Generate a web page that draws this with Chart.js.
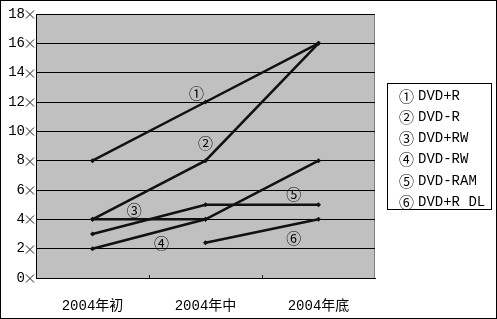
<!DOCTYPE html>
<html>
<head>
<meta charset="utf-8">
<script src="https://cdn.jsdelivr.net/npm/chart.js@4/dist/chart.umd.min.js"></script>
<style>
  html, body { margin: 0; padding: 0; background: #fff; }
  #wrap { width: 497px; height: 319px; }
</style>
</head>
<body>
<div id="wrap"><canvas id="dvdChart" width="497" height="319"></canvas></div>
<script>
// data
const categories = ['2004年初', '2004年中', '2004年底'];
const dvdPlusR   = [8, 12, 16];
const dvdMinusR  = [4, 8, 16];
const dvdPlusRW  = [3, 5, 5];
const dvdMinusRW = [2, 4, 8];
const dvdRAM     = [4, 4, null];
const dvdPlusRDL = [null, 2.4, 4];
const seriesNames = ['DVD+R', 'DVD-R', 'DVD+RW', 'DVD-RW', 'DVD-RAM', 'DVD+R DL'];
const seriesMarks = ['①', '②', '③', '④', '⑤', '⑥'];
const yMax = 18;
const yStep = 2;

// where each circled number sits on the plot (category index, value)
const markSpots = [[0.92, 12.6], [1.0, 9.2], [0.37, 4.6], [0.61, 2.4], [1.78, 5.7], [1.78, 2.7]];

const monoFont = '"Liberation Mono", "Noto Sans CJK SC", monospace';
const cjkFont = '"Noto Sans CJK SC", "Liberation Mono", sans-serif';

const allSeries = [dvdPlusR, dvdMinusR, dvdPlusRW, dvdMinusRW, dvdRAM, dvdPlusRDL];

const frame = {
    id: 'frame',
    beforeDraw(chart) {
        const ctx = chart.ctx;
        const a = chart.chartArea;
        ctx.save();
        ctx.fillStyle = '#fff';
        ctx.fillRect(0, 0, chart.width, chart.height);
        ctx.fillStyle = '#c0c0c0';
        ctx.fillRect(a.left, a.top, a.right - a.left, a.bottom - a.top);
        ctx.strokeStyle = '#808080';
        ctx.lineWidth = 1;
        ctx.strokeRect(a.left + 0.5, a.top + 0.5, a.right - a.left - 1, a.bottom - a.top);
        ctx.restore();
    },
    afterDraw(chart) {
        const ctx = chart.ctx;
        const a = chart.chartArea;
        const y = chart.scales.y;
        const x = chart.scales.x;
        ctx.save();
        // outer border
        ctx.strokeStyle = '#000';
        ctx.lineWidth = 1;
        ctx.strokeRect(0.5, 0.5, chart.width - 1, chart.height - 1);

        // cross tick marks on the value axis
        ctx.strokeStyle = '#222';
        y.ticks.forEach(t => {
            const py = Math.round(y.getPixelForValue(t.value)) + 0.5;
            ctx.beginPath();
            ctx.moveTo(a.left - 10, py - 4);
            ctx.lineTo(a.left - 2, py + 4);
            ctx.moveTo(a.left - 10, py + 4);
            ctx.lineTo(a.left - 2, py - 4);
            ctx.stroke();
        });

        // small ticks between categories
        for (let i = 0.5; i < categories.length - 1; i++) {
            const px = Math.round(x.getPixelForValue(i)) + 0.5;
            ctx.beginPath();
            ctx.moveTo(px, a.bottom - 3);
            ctx.lineTo(px, a.bottom);
            ctx.stroke();
        }

        // circled numbers on the lines
        ctx.fillStyle = '#000';
        ctx.font = '15px ' + cjkFont;
        ctx.textAlign = 'center';
        ctx.textBaseline = 'middle';
        markSpots.forEach((s, i) => {
            ctx.fillText(seriesMarks[i], x.getPixelForValue(s[0]), y.getPixelForValue(s[1]));
        });

        // legend box
        const bx = a.right + 12, by = 83, bw = 104, bh = 126;
        ctx.strokeStyle = '#000';
        ctx.strokeRect(bx + 0.5, by + 0.5, bw, bh);
        ctx.textAlign = 'left';
        seriesNames.forEach((name, i) => {
            const ty = by + 13 + i * 21.2;
            ctx.font = '15px ' + cjkFont;
            ctx.fillText(seriesMarks[i], bx + 12, ty);
            ctx.font = '14px ' + monoFont;
            ctx.fillText(name, bx + 31, ty);
        });
        ctx.restore();
    }
};

const ctx = document.getElementById('dvdChart').getContext('2d');
new Chart(ctx, {
    type: 'line',
    data: {
        labels: categories,
        datasets: allSeries.map((d, i) => ({
            label: seriesNames[i],
            data: d,
            borderColor: '#111',
            backgroundColor: '#111',
            borderWidth: 2.5,
            pointStyle: 'rectRot',
            pointRadius: 2.5,
            pointBorderWidth: 0,
            tension: 0,
            spanGaps: false
        }))
    },
    options: {
        responsive: false,
        animation: false,
        devicePixelRatio: 1,
        layout: { padding: { top: 14, right: 122, left: 0, bottom: 0 } },
        plugins: {
            legend: { display: false },
            tooltip: { enabled: false }
        },
        scales: {
            x: {
                offset: true,
                grid: { display: false },
                border: { display: true, color: '#000', width: 1 },
                ticks: {
                    color: '#000',
                    font: { family: monoFont, size: 14 },
                    padding: 12,
                    maxRotation: 0
                },
                afterFit(scale) { scale.height = 41; }
            },
            y: {
                min: 0,
                max: yMax,
                grid: { color: '#000', lineWidth: 1, drawTicks: false },
                border: { display: true, color: '#000', width: 1 },
                ticks: {
                    stepSize: yStep,
                    color: '#000',
                    font: { family: monoFont, size: 14 },
                    padding: 11
                },
                afterFit(scale) {
                    scale.width = 36;
                    scale.paddingTop = 0;
                    scale.paddingBottom = 0;
                }
            }
        }
    },
    plugins: [frame]
});
</script>
</body>
</html>
